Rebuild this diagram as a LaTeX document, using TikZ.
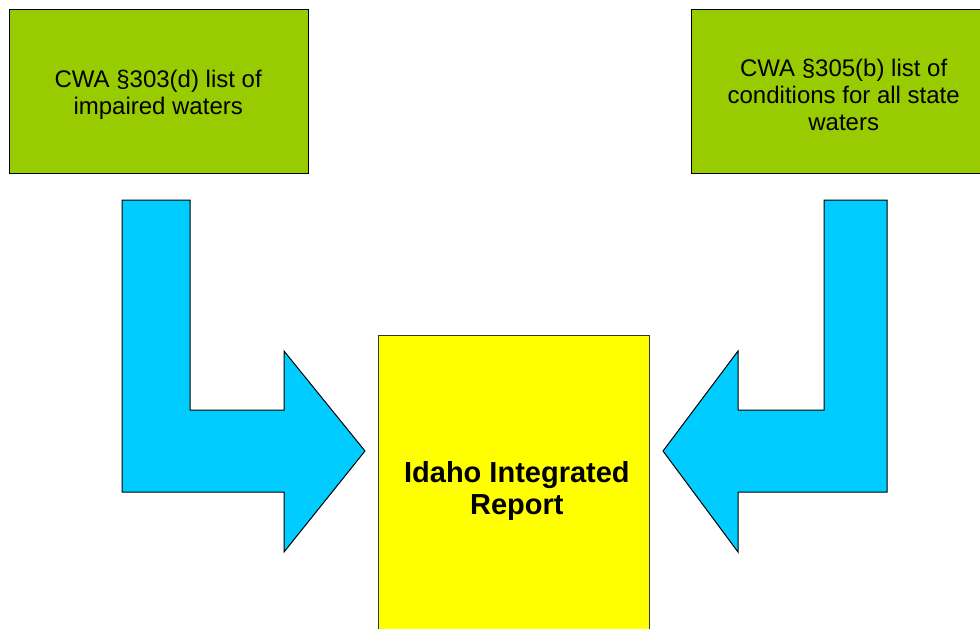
\documentclass[tikz,border=0pt]{standalone}
\usepackage{fontspec}
\setmainfont{Liberation Sans}
\usetikzlibrary{calc}
\definecolor{listgreen}{HTML}{99CC00}
\definecolor{flowcyan}{HTML}{00CCFF}
\definecolor{reportyellow}{HTML}{FFFF00}

\begin{document}
\begin{tikzpicture}[x=1pt,y=-1pt,
        listbox/.style={draw=black, line width=1.4pt, fill=listgreen, minimum height=164pt, inner sep=0pt},
        listtext/.style={align=center, inner sep=0pt, font=\fontsize{24}{27}\selectfont},
        bentarrow/.style={draw=black, line width=1pt, fill=flowcyan, line join=miter}]
        \newcommand{\figarrowtop}{200}
        \newcommand{\figarrowknee}{410}
        \newcommand{\figarrowheadtop}{351}
        \newcommand{\figarrowtipy}{451}
        \newcommand{\figarrowshaftbot}{492}
        \newcommand{\figarrowheadbot}{552}
        \useasboundingbox (0,0) rectangle (980,629);
        \clip (0,0) rectangle (980,629);
        % source lists
        \node[listbox, minimum width=299pt, anchor=north west] (impaired) at (9,9) {};
        \node[listtext] (impairedtext) at ($(impaired.center)+(-1,3)$) {CWA \S303(d) list of\\impaired waters};
        \node[listbox, minimum width=304pt, anchor=north west] (conditions) at (691,9) {};
        \node[listtext] (conditionstext) at ($(conditions.center)+(0,3)$) {CWA \S305(b) list of\\conditions for all state\\waters};
        % report
        \node[draw=black!80, line width=0.8pt, fill=reportyellow, minimum width=271pt, minimum height=306pt,
            anchor=north west, inner sep=0pt] (report) at (378,335) {};
        \node[align=center, inner sep=0pt, font=\fontsize{29}{32}\selectfont\bfseries]
            (reporttext) at ($(report.center)+(3,3)$) {Idaho Integrated\\Report};
        % bent arrows
        \draw[bentarrow] (122,\figarrowtop) -- (190,\figarrowtop) -- (190,\figarrowknee) -- (284,\figarrowknee)
            -- (284,\figarrowheadtop) -- (365,\figarrowtipy) -- (284,\figarrowheadbot) -- (284,\figarrowshaftbot)
            -- (122,\figarrowshaftbot) -- cycle;
        \draw[bentarrow] (887,\figarrowtop) -- (824,\figarrowtop) -- (824,\figarrowknee) -- (738,\figarrowknee)
            -- (738,\figarrowheadtop) -- (663,\figarrowtipy) -- (738,\figarrowheadbot) -- (738,\figarrowshaftbot)
            -- (887,\figarrowshaftbot) -- cycle;
\end{tikzpicture}
\end{document}
